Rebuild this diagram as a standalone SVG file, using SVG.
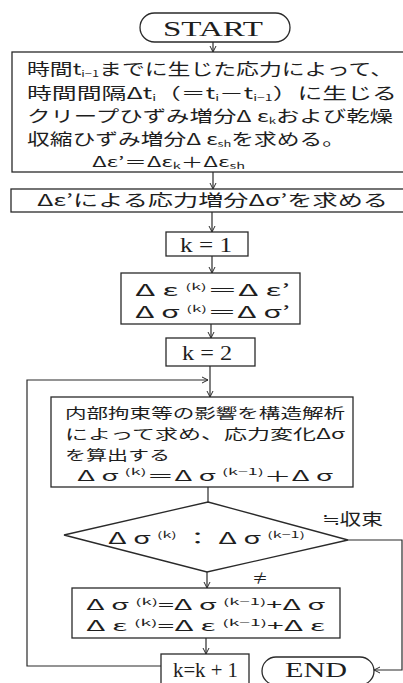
<svg xmlns="http://www.w3.org/2000/svg" width="403" height="683" viewBox="0 0 403 683">
<style>
.bx{fill:none;stroke:#2a2a2a;stroke-width:1.3}
.ln{fill:none;stroke:#2a2a2a;stroke-width:1.2}
.t{font-family:"Noto Sans CJK JP","Liberation Sans",sans-serif;font-size:16px;fill:#1e1e1e}
.s{font-family:"Liberation Serif","Noto Sans CJK JP",serif;font-size:20px;fill:#1e1e1e}
.t14{font-size:14px}
.sb{font-size:9px}
</style>
<defs>
<marker id="a" markerWidth="8" markerHeight="8" refX="6" refY="4" orient="auto" markerUnits="userSpaceOnUse">
<path d="M0,1 L6,4 L0,7" fill="none" stroke="#2a2a2a" stroke-width="1"/>
</marker>
</defs>
<rect width="403" height="683" fill="#fff"/>
<g id="connectors">
<line class="ln" x1="213" y1="42" x2="213" y2="52" marker-end="url(#a)"/>
<line class="ln" x1="213" y1="172" x2="213" y2="189" marker-end="url(#a)"/>
<line class="ln" x1="212" y1="212" x2="212" y2="232" marker-end="url(#a)"/>
<line class="ln" x1="212" y1="256" x2="212" y2="273" marker-end="url(#a)"/>
<line class="ln" x1="211" y1="324" x2="211" y2="338" marker-end="url(#a)"/>
<line class="ln" x1="210" y1="366" x2="210" y2="397" marker-end="url(#a)"/>
<polyline class="ln" points="161,666 27,666 27,380 208,380" marker-end="url(#a)"/>
<line class="ln" x1="208" y1="487" x2="208" y2="502"/>
<line class="ln" x1="207" y1="572" x2="207" y2="588" marker-end="url(#a)"/>
<line class="ln" x1="206" y1="638" x2="206" y2="654" marker-end="url(#a)"/>
<polyline class="ln" points="348,540 402,540 402,670 374,670" marker-end="url(#a)"/>
</g>
<g id="start">
<rect class="bx" x="140" y="13" width="150" height="29" rx="14.5"/>
<text class="s" x="213" y="36" text-anchor="middle" textLength="100" lengthAdjust="spacingAndGlyphs" style="font-size:22px">START</text>
</g>
<g id="step1">
<rect class="bx" x="12" y="52" width="392" height="120"/>
<text class="t" x="27" y="75" textLength="366" lengthAdjust="spacingAndGlyphs">時間t<tspan class="sb" dy="2">i−1</tspan><tspan dy="-2">までに生じた応力によって、</tspan></text>
<text class="t" x="27" y="99" textLength="370" lengthAdjust="spacingAndGlyphs">時間間隔Δt<tspan class="sb" dy="2">i</tspan><tspan dy="-2">（＝t</tspan><tspan class="sb" dy="2">i</tspan><tspan dy="-2">－t</tspan><tspan class="sb" dy="2">i−1</tspan><tspan dy="-2">）に生じる</tspan></text>
<text class="t" x="27" y="122" textLength="366" lengthAdjust="spacingAndGlyphs">クリープひずみ増分Δ ε<tspan class="sb" dy="2">k</tspan><tspan dy="-2">および乾燥</tspan></text>
<text class="t" x="27" y="145" textLength="318" lengthAdjust="spacingAndGlyphs">収縮ひずみ増分Δ ε<tspan class="sb" dy="2">sh</tspan><tspan dy="-2">を求める。</tspan></text>
<text class="t t14" x="92" y="167" textLength="153" lengthAdjust="spacingAndGlyphs">Δε’＝Δε<tspan class="sb" dy="2">k</tspan><tspan dy="-2">＋Δε</tspan><tspan class="sb" dy="2">sh</tspan></text>
</g>
<g id="step2">
<rect class="bx" x="11" y="189" width="393" height="23"/>
<text class="t" x="37" y="206" textLength="351" lengthAdjust="spacingAndGlyphs">Δε’による応力増分Δσ’を求める</text>
</g>
<g id="k1">
<rect class="bx" x="166" y="232" width="82" height="24"/>
<text class="s" x="180" y="252" textLength="52" lengthAdjust="spacingAndGlyphs">k = 1</text>
</g>
<g id="init">
<rect class="bx" x="121" y="273" width="179" height="51"/>
<text class="t" x="135" y="296" textLength="155" lengthAdjust="spacingAndGlyphs">Δ ε <tspan class="sb" dy="-6">(k)</tspan><tspan dy="6">＝Δ ε’</tspan></text>
<text class="t" x="135" y="318" textLength="155" lengthAdjust="spacingAndGlyphs">Δ σ <tspan class="sb" dy="-6">(k)</tspan><tspan dy="6">＝Δ σ’</tspan></text>
</g>
<g id="k2">
<rect class="bx" x="166" y="338" width="89" height="28"/>
<text class="s" x="182" y="360" textLength="50" lengthAdjust="spacingAndGlyphs">k = 2</text>
</g>
<g id="analysis">
<rect class="bx" x="51" y="397" width="302" height="90"/>
<text class="t t14" x="65" y="418" textLength="280" lengthAdjust="spacingAndGlyphs">内部拘束等の影響を構造解析</text>
<text class="t t14" x="65" y="439" textLength="280" lengthAdjust="spacingAndGlyphs">によって求め、応力変化Δσ</text>
<text class="t t14" x="65" y="460" textLength="105" lengthAdjust="spacingAndGlyphs">を算出する</text>
<text class="t t14" x="77" y="481" textLength="256" lengthAdjust="spacingAndGlyphs">Δ σ <tspan class="sb" dy="-6">(k)</tspan><tspan dy="6">＝Δ σ </tspan><tspan class="sb" dy="-6">(k−1)</tspan><tspan dy="6">＋Δ σ</tspan></text>
</g>
<g id="decision">
<polygon class="bx" points="208,502 348,540 207,572 64,535"/>
<text class="t" x="108" y="544" textLength="197" lengthAdjust="spacingAndGlyphs">Δ σ <tspan class="sb" dy="-6">(k)</tspan><tspan dy="6"> ： Δ σ </tspan><tspan class="sb" dy="-6">(k−1)</tspan></text>
<text class="t" x="322" y="525" textLength="61" lengthAdjust="spacingAndGlyphs">≒収束</text>
<text class="t" x="252" y="584">≠</text>
</g>
<g id="update">
<rect class="bx" x="72" y="588" width="268" height="50"/>
<text class="t t14" x="86" y="610" textLength="239" lengthAdjust="spacingAndGlyphs">Δ σ <tspan class="sb" dy="-5">(k)</tspan><tspan dy="5">=Δ σ </tspan><tspan class="sb" dy="-5">(k−1)</tspan><tspan dy="5">+Δ σ</tspan></text>
<text class="t t14" x="86" y="631" textLength="239" lengthAdjust="spacingAndGlyphs">Δ ε <tspan class="sb" dy="-5">(k)</tspan><tspan dy="5">=Δ ε </tspan><tspan class="sb" dy="-5">(k−1)</tspan><tspan dy="5">+Δ ε</tspan></text>
</g>
<g id="increment">
<rect class="bx" x="161" y="654" width="88" height="30"/>
<text class="s" x="173" y="677" textLength="65" lengthAdjust="spacingAndGlyphs">k=k + 1</text>
</g>
<g id="end">
<rect class="bx" x="262" y="657" width="112" height="28" rx="14"/>
<text class="s" x="316" y="677" text-anchor="middle" textLength="62" lengthAdjust="spacingAndGlyphs" style="font-size:21px">END</text>
</g>
</svg>
